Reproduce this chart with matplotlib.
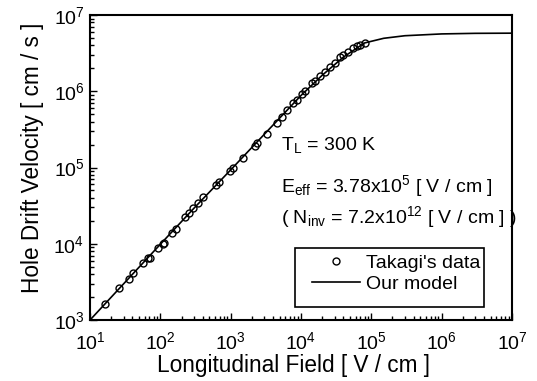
import matplotlib
matplotlib.use('Agg')
import matplotlib.pyplot as plt
from matplotlib.ticker import LogLocator, FixedLocator, NullFormatter
from matplotlib.patches import Rectangle

plt.rcParams['font.family'] = ['Liberation Sans', 'DejaVu Sans']
plt.rcParams['mathtext.fontset'] = 'custom'
plt.rcParams['mathtext.rm'] = 'Liberation Sans'
plt.rcParams['mathtext.it'] = 'Liberation Sans'

# Takagi's data (field V/cm, velocity cm/s)
data_field = [16.3, 26.1, 36.2, 40.5, 57.3, 67.5, 71.3, 93.5, 108, 113, 145, 167,
              224, 258, 294, 347, 408, 619, 689, 979, 1070, 1480, 2220, 2390,
              3250, 4520, 5320, 6270, 7780, 8690, 10200, 11400, 14200, 15800,
              18600, 21900, 25800, 30500, 35900, 40000, 47100, 55500, 63200,
              69000, 81300]
data_vel = [1620, 2650, 3450, 4100, 5640, 6440, 6600, 8710, 9840, 10140, 13970,
            15480, 22240, 25100, 29500, 34500, 40600, 58900, 65100, 90800, 97700,
            132000, 191000, 207000, 275000, 387000, 463000, 568000, 695000,
            768000, 920000, 1.02e6, 1.27e6, 1.37e6, 1.58e6, 1.80e6, 2.06e6,
            2.37e6, 2.79e6, 2.99e6, 3.30e6, 3.66e6, 3.92e6, 4.04e6, 4.33e6]

# our model curve
model_field = [10, 30, 100, 300, 1000, 3000, 1e4, 2e4, 4e4, 8e4, 1.5e5, 3e5,
               1e6, 3e6, 1e7]
model_vel = [1000, 2980, 9850, 29200, 93000, 272000, 880000, 1.62e6, 2.8e6,
             4.3e6, 4.95e6, 5.35e6, 5.65e6, 5.75e6, 5.78e6]

fig = plt.figure(figsize=(5.37, 3.81), dpi=100)
ax = fig.add_axes([0.1676, 0.160, 0.7858, 0.8006])

ax.plot(data_field, data_vel, 'o', mfc='none', mec='black', ms=5, mew=1.0,
        label="Takagi's data")
ax.plot(model_field, model_vel, '-', color='black', lw=1.2, label='Our model')

ax.set_xscale('log')
ax.set_yscale('log')
ax.set_xlim(10, 1e7)
ax.set_ylim(1e3, 1e7)

ax.xaxis.set_major_locator(FixedLocator([10**k for k in range(1, 8)]))
ax.yaxis.set_major_locator(FixedLocator([10**k for k in range(3, 8)]))
ax.set_xticklabels([r'$10^{%d}$' % k for k in range(1, 8)])
ax.set_yticklabels([r'$10^{%d}$' % k for k in range(3, 8)])
ax.xaxis.set_minor_locator(LogLocator(base=10, subs=range(2, 10), numticks=20))
ax.yaxis.set_minor_locator(LogLocator(base=10, subs=range(2, 10), numticks=20))
ax.xaxis.set_minor_formatter(NullFormatter())
ax.yaxis.set_minor_formatter(NullFormatter())

ax.tick_params(which='both', direction='in', top=False, right=False,
               labelsize=14, width=1)
ax.tick_params(which='major', length=5)
ax.tick_params(axis='x', which='major', pad=8)
ax.tick_params(axis='y', which='major', pad=4)
ax.tick_params(which='minor', length=3)
for s in ax.spines.values():
    s.set_linewidth(1.5)

ax.set_xlabel('Longitudinal Field [ V / cm ]', fontsize=16.3)
ax.set_ylabel('Hole Drift Velocity [ cm / s ]', fontsize=16.3)
ax.xaxis.set_label_coords(0.483, -0.11)
ax.yaxis.set_label_coords(-0.109, 0.531)

ax.text(0.452, 0.557, r'T$_{\rm L}$ = 300 K', transform=ax.transAxes,
        fontsize=14, va='baseline')
ax.text(0.452, 0.420, r'E$_{\rm eff}$ = 3.78x10$^{5}$ [ V / cm ]',
        transform=ax.transAxes, fontsize=14, va='baseline')
ax.text(0.452, 0.318, r'( N$_{\rm inv}$ = 7.2x10$^{12}$ [ V / cm ] )',
        transform=ax.transAxes, fontsize=14, va='baseline')

# legend box
ax.add_patch(Rectangle((0.486, 0.0426), 0.448, 0.193, transform=ax.transAxes,
                       fill=False, edgecolor='black', lw=1.2, zorder=5))
ax.legend(loc='upper left', bbox_to_anchor=(0.526, 0.215), fontsize=14,
          frameon=False, handlelength=2.47, borderpad=0, borderaxespad=0,
          labelspacing=0.15, handletextpad=0.31)

fig.savefig('out.png', dpi=100)
